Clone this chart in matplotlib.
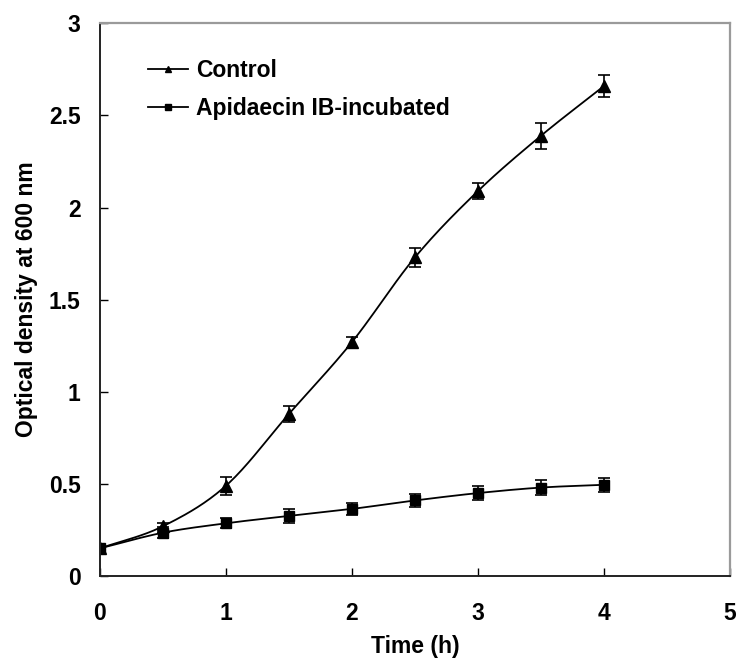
import numpy as np
import matplotlib
matplotlib.use("Agg")
import matplotlib.pyplot as plt

# data
time_h = [0, 0.5, 1, 1.5, 2, 2.5, 3, 3.5, 4]
control = [0.15, 0.27, 0.49, 0.88, 1.27, 1.73, 2.09, 2.39, 2.66]
control_err = [0.0, 0.02, 0.05, 0.045, 0.03, 0.05, 0.043, 0.07, 0.06]
apidaecin = [0.15, 0.235, 0.286, 0.326, 0.364, 0.41, 0.45, 0.48, 0.495]
apidaecin_err = [0.0, 0.03, 0.028, 0.036, 0.033, 0.033, 0.04, 0.043, 0.038]

x_ticks = [0, 1, 2, 3, 4, 5]
y_ticks = [0, 0.5, 1, 1.5, 2, 2.5, 3]
y_tick_labels = ["0", "0.5", "1", "1.5", "2", "2.5", "3"]

plt.rcParams['font.family'] = ['Liberation Sans', 'DejaVu Sans']
plt.rcParams['font.weight'] = 'bold'


def smooth(x, y, n=20):
    # catmull-rom style smoothing, like excel's "smoothed line"
    x = np.asarray(x, float)
    y = np.asarray(y, float)
    px = np.concatenate([[2 * x[0] - x[1]], x, [2 * x[-1] - x[-2]]])
    py = np.concatenate([[2 * y[0] - y[1]], y, [2 * y[-1] - y[-2]]])
    xs, ys = [], []
    t = np.linspace(0, 1, n, endpoint=False)
    for i in range(1, len(px) - 2):
        for p, out in ((px, xs), (py, ys)):
            p0, p1, p2, p3 = p[i - 1], p[i], p[i + 1], p[i + 2]
            out.extend(0.5 * ((2 * p1) + (-p0 + p2) * t
                              + (2 * p0 - 5 * p1 + 4 * p2 - p3) * t ** 2
                              + (-p0 + 3 * p1 - 3 * p2 + p3) * t ** 3))
    xs.append(x[-1])
    ys.append(y[-1])
    return xs, ys


fig = plt.figure(figsize=(7.39, 6.59), dpi=100)
ax = fig.add_axes([0.1353, 0.126, 0.8525, 0.8385])

sx, sy = smooth(time_h, control)
ax.plot(sx, sy, color='black', lw=1.3)
ax.errorbar(time_h, control, yerr=control_err, fmt='^', color='black',
            ms=8, capsize=4.5, elinewidth=1.2, capthick=1.2)
sx, sy = smooth(time_h, apidaecin)
ax.plot(sx, sy, color='black', lw=1.3)
ax.errorbar(time_h, apidaecin, yerr=apidaecin_err, fmt='s', color='black',
            ms=7, capsize=4.5, elinewidth=1.2, capthick=1.2)

# legend handles
h1, = ax.plot([], [], '-^', color='black', ms=5, lw=1.3, label='Control')
h2, = ax.plot([], [], '-s', color='black', ms=4.5, lw=1.3, label='Apidaecin IB-incubated')
ax.legend(handles=[h1, h2], loc='upper left', bbox_to_anchor=(0.076, 0.936),
          frameon=False, handlelength=1.75, handletextpad=0.35,
          labelspacing=0.68, borderpad=0, borderaxespad=0,
          prop={'weight': 'bold', 'size': 16.5})

ax.set_xlim(0, 5)
ax.set_ylim(0, 3)
ax.set_xticks(x_ticks)
ax.set_yticks(y_ticks)
ax.set_yticklabels(y_tick_labels)
ax.tick_params(axis='both', direction='in', length=6, width=1, labelsize=16.5)
ax.tick_params(axis='y', pad=14)
ax.tick_params(axis='x', pad=19)

for s in ['left', 'bottom']:
    ax.spines[s].set_color('#222222')
    ax.spines[s].set_linewidth(1.4)
for s in ['top', 'right']:
    ax.spines[s].set_color('#9a9a9a')
    ax.spines[s].set_linewidth(1.6)

ax.set_xlabel("Time (h)", fontsize=16.5, fontweight='bold', labelpad=7)
ax.set_ylabel("Optical density at 600 nm", fontsize=16.5, fontweight='bold', labelpad=8)

fig.savefig("out.png", dpi=100)
